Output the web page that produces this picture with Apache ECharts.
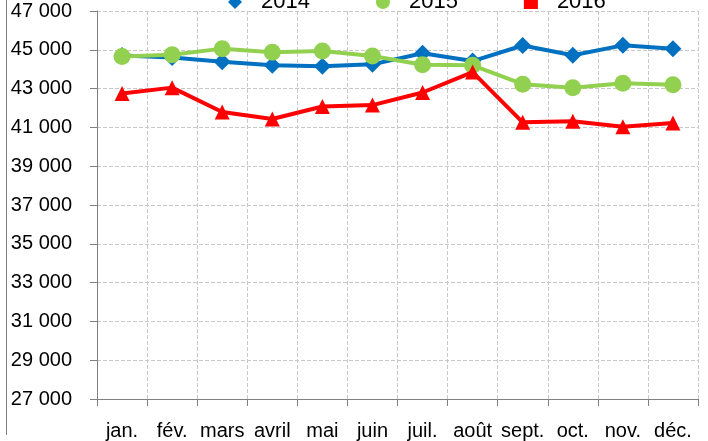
<!DOCTYPE html>
<html><head><meta charset="utf-8">
<script src="https://cdn.jsdelivr.net/npm/echarts@6/dist/echarts.min.js"></script>
<style>html,body{margin:0;padding:0;background:#fff}#c{width:708px;height:441px}</style>
</head><body><div id="c"></div>
<script>
const categories = ['jan.','fév.','mars','avril','mai','juin','juil.','août','sept.','oct.','nov.','déc.'];
const s2014 = [44700,44600,44380,44200,44150,44250,44820,44420,45220,44720,45230,45050];
const s2015 = [44660,44750,45060,44870,44940,44680,44230,44200,43230,43040,43280,43200];
const s2016 = [42750,43050,41790,41430,42080,42150,42800,43850,41260,41320,41030,41230];
const FONT = '"Liberation Sans", Arial, sans-serif';
const chart = echarts.init(document.getElementById('c'));
const fmt = v => String(v).replace(/(\d)(?=(\d{3})+$)/, '$1 ');
chart.setOption({
  animation:false,
  textStyle:{fontFamily:FONT},
  legend:{top:-14,left:223,itemGap:66,itemWidth:14,itemHeight:14,
    textStyle:{fontSize:22,color:'#000',fontFamily:FONT,padding:[0,0,0,14]},
    data:[{name:'2014',icon:'diamond'},{name:'2015',icon:'circle'},{name:'2016',icon:'rect'}]},
  grid:{left:97,right:10,top:11,bottom:40},
  xAxis:{type:'category',data:categories,boundaryGap:true,
    axisLine:{lineStyle:{color:'#808080'}},
    axisTick:{show:true,length:7,lineStyle:{color:'#808080'}},
    splitLine:{show:true,lineStyle:{color:'#c8c8c8',type:'dashed'}},
    axisLabel:{fontSize:20,color:'#000',margin:22,fontFamily:FONT,interval:0}},
  yAxis:{type:'value',min:27000,max:47000,interval:2000,
    axisLine:{show:true,lineStyle:{color:'#808080'}},
    axisTick:{show:true,length:7,lineStyle:{color:'#808080'}},
    splitLine:{show:true,lineStyle:{color:'#c8c8c8',type:'dashed'}},
    axisLabel:{fontSize:20,color:'#000',margin:25,fontFamily:FONT,formatter:fmt}},
  series:[
    {name:'2014',type:'line',data:s2014,symbol:'diamond',symbolSize:17,
      itemStyle:{color:'#0070C0'},lineStyle:{width:4,color:'#0070C0'},z:3},
    {name:'2015',type:'line',data:s2015,symbol:'circle',symbolSize:17,
      itemStyle:{color:'#92D050'},lineStyle:{width:4,color:'#92D050'},z:4},
    {name:'2016',type:'line',data:s2016,symbol:'triangle',symbolSize:15,
      itemStyle:{color:'#FF0000'},lineStyle:{width:4,color:'#FF0000'},z:5}
  ],
  graphic:[{type:'line',shape:{x1:6.5,y1:0,x2:6.5,y2:435},style:{stroke:'#808080',lineWidth:1}}]
});
</script></body></html>
